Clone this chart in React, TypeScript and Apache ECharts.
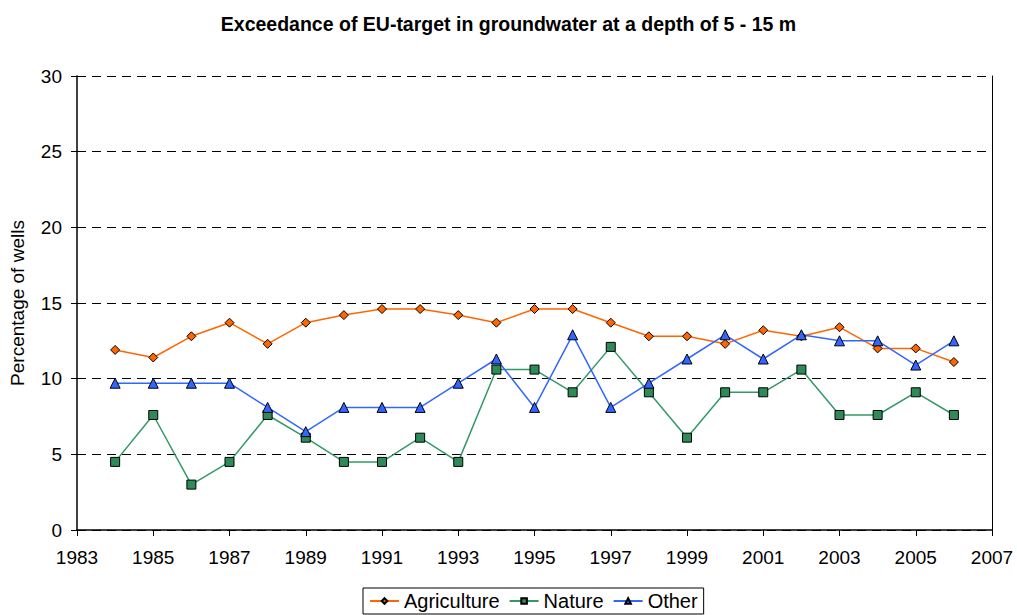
import React, { useEffect, useRef } from "react";
import * as echarts from "echarts";

const years = [1984, 1985, 1986, 1987, 1988, 1989, 1990, 1991, 1992, 1993, 1994, 1995, 1996, 1997, 1998, 1999, 2000, 2001, 2002, 2003, 2004, 2005, 2006];
const agriculture = [11.9, 11.4, 12.8, 13.7, 12.3, 13.7, 14.2, 14.6, 14.6, 14.2, 13.7, 14.6, 14.6, 13.7, 12.8, 12.8, 12.3, 13.2, 12.8, 13.4, 12.0, 12.0, 11.1];
const nature = [4.5, 7.6, 3.0, 4.5, 7.6, 6.1, 4.5, 4.5, 6.1, 4.5, 10.6, 10.6, 9.1, 12.1, 9.1, 6.1, 9.1, 9.1, 10.6, 7.6, 7.6, 9.1, 7.6];
const other = [9.7, 9.7, 9.7, 9.7, 8.1, 6.5, 8.1, 8.1, 8.1, 9.7, 11.3, 8.1, 12.9, 8.1, 9.7, 11.3, 12.9, 11.3, 12.9, 12.5, 12.5, 10.9, 12.5];

const FONT = "'Liberation Sans', Arial, sans-serif";

export default function App() {
  const ref = useRef<HTMLDivElement>(null);
  useEffect(() => {
    if (!ref.current) return;
    const chart = echarts.init(ref.current, null, { renderer: "svg" });
    const pair = (arr: number[]) => years.map((y, i) => [y, arr[i]]);
    chart.setOption({
      animation: false,
      backgroundColor: "#fff",
      textStyle: { fontFamily: FONT },
      title: {
        text: "Exceedance of EU-target in groundwater at a depth of 5 - 15 m",
        left: "center",
        top: 9,
        textStyle: { fontSize: 19.5, fontWeight: "bold", color: "#000", fontFamily: FONT },
      },
      legend: {
        left: 363,
        bottom: 1,
        itemGap: 9,
        itemWidth: 29,
        itemHeight: 7,
        padding: [3, 6, 3, 6],
        borderColor: "#000",
        borderWidth: 1,
        borderRadius: 0,
        textStyle: { fontSize: 20, color: "#000", fontFamily: FONT },
        data: ["Agriculture", "Nature", "Other"],
      },
      grid: { left: 75, right: 25, top: 76, bottom: 85, containLabel: false },
      xAxis: {
        type: "value",
        min: 1983,
        max: 2007,
        interval: 2,
        axisLine: { show: true, lineStyle: { color: "#000", width: 1.5 } },
        axisTick: { show: true, length: 6, lineStyle: { color: "#000" } },
        axisLabel: { fontSize: 19, color: "#000", margin: 18, formatter: (v: number) => String(v) },
        splitLine: { show: false },
      },
      yAxis: [
        {
          type: "value",
          min: 0,
          max: 30,
          interval: 5,
          name: "Percentage of wells",
          nameLocation: "middle",
          nameGap: 50,
          nameTextStyle: { fontSize: 19, color: "#000", fontFamily: FONT },
          axisLine: { show: true, lineStyle: { color: "#000", width: 1.5 } },
          axisTick: { show: true, length: 6, lineStyle: { color: "#000" } },
          axisLabel: { fontSize: 19, color: "#000", margin: 15 },
          splitLine: { show: true, lineStyle: { color: "#000", type: [9, 6], width: 1 } },
        },
        {
          type: "value",
          min: 0,
          max: 30,
          interval: 5,
          position: "right",
          axisLine: { show: true, lineStyle: { color: "#000", width: 1 } },
          axisTick: { show: false },
          axisLabel: { show: false },
          splitLine: { show: false },
        },
      ],
      series: [
        {
          name: "Agriculture",
          type: "line",
          data: pair(agriculture),
          symbol: "diamond",
          symbolSize: 9,
          lineStyle: { color: "#FF6600", width: 1.5 },
          itemStyle: { color: "#FF6600", borderColor: "#000", borderWidth: 1 },
        },
        {
          name: "Nature",
          type: "line",
          data: pair(nature),
          symbol: "rect",
          symbolSize: 9,
          lineStyle: { color: "#339966", width: 1.5 },
          itemStyle: { color: "#2E8B57", borderColor: "#000", borderWidth: 1 },
        },
        {
          name: "Other",
          type: "line",
          data: pair(other),
          symbol: "triangle",
          symbolSize: 10,
          lineStyle: { color: "#3366FF", width: 1.5 },
          itemStyle: { color: "#3366FF", borderColor: "#000", borderWidth: 1 },
        },
      ],
    });
    return () => chart.dispose();
  }, []);
  return <div ref={ref} style={{ width: 1017, height: 615, position: "absolute", left: 0, top: 0 }} />;
}
